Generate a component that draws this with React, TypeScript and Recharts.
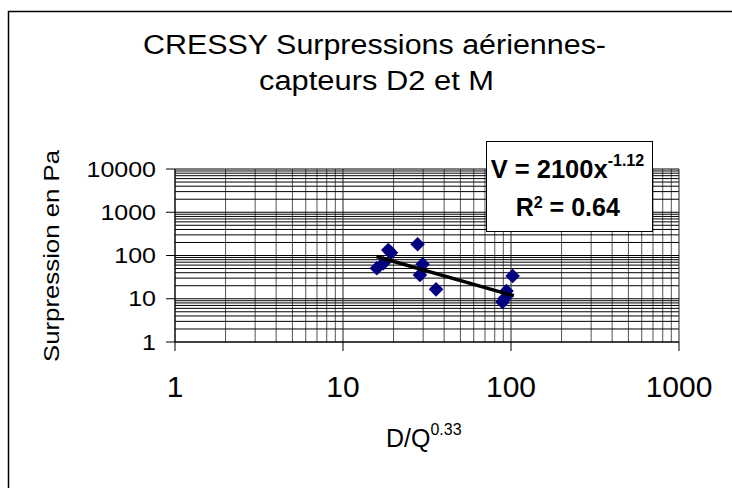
import React from 'react';
import { ScatterChart, Scatter, XAxis, YAxis, ReferenceLine } from 'recharts';

// D/Q^0.33 values of the measurement points
const distance = [15.9, 17.4, 18.6, 19.3, 27.8, 29.8, 28.7, 35.8, 102.3, 94.0, 89.0, 92.1];
// Surpression en Pa
const pressure = [50.6, 66, 134, 116, 181.5, 62.6, 35.4, 16.5, 33.6, 15.1, 8.4, 10.4];
// power trend line end points (V = 2100x^-1.12)
const trendX = [15.8, 104];
const trendY = [95, 11.7];

const xTicks = [1, 10, 100, 1000];
const yTicks = [1, 10, 100, 1000, 10000];
const xMinor = [2, 3, 4, 5, 6, 7, 8, 9, 20, 30, 40, 50, 60, 70, 80, 90, 200, 300, 400, 500, 600, 700, 800, 900];
const yMinor = [2, 3, 4, 5, 6, 7, 8, 9, 20, 30, 40, 50, 60, 70, 80, 90, 200, 300, 400, 500, 600, 700, 800, 900,
  2000, 3000, 4000, 5000, 6000, 7000, 8000, 9000];

const points = distance.map((d, i) => ({ x: d, y: pressure[i] }));
const trend = trendX.map((d, i) => ({ x: d, y: trendY[i] }));

const FONT = '"Liberation Sans", Arial, sans-serif';

const YTick = (props: any) => {
  const { x, y, payload } = props;
  const s = String(payload.value);
  return (
    <text x={x} y={y} dy={7.5} textAnchor="end" fontFamily={FONT} fontSize={21.5} fill="#000"
      textLength={s.length * 13.9} lengthAdjust="spacingAndGlyphs">{s}</text>
  );
};

const XTick = (props: any) => {
  const { x, y, payload } = props;
  const s = String(payload.value);
  return (
    <text x={x} y={y} dy={44} textAnchor="middle" fontFamily={FONT} fontSize={30} fill="#000">{s}</text>
  );
};

const Diamond = (props: any) => {
  const { cx, cy } = props;
  if (cx == null || cy == null) return <g />;
  const r = 7.3;
  return <path d={`M${cx},${cy - r}L${cx + r},${cy}L${cx},${cy + r}L${cx - r},${cy}Z`} fill="#000080" />;
};

const NoShape = () => <g />;

export default function App() {
  return (
    <div style={{ position: 'absolute', left: 0, top: 0, width: 732, height: 488, background: '#fff' }}>
      <ScatterChart width={732} height={488} margin={{ top: 169, right: 53, bottom: 86, left: 0 }}>
        {xMinor.map((v) => (
          <ReferenceLine key={'xm' + v} x={v} stroke="#555" strokeWidth={1} />
        ))}
        {yMinor.map((v) => (
          <ReferenceLine key={'ym' + v} y={v} stroke="#000" strokeWidth={1} />
        ))}
        {xTicks.map((v) => (
          <ReferenceLine key={'xM' + v} x={v} stroke="#222" strokeWidth={1} />
        ))}
        {yTicks.map((v) => (
          <ReferenceLine key={'yM' + v} y={v} stroke="#000" strokeWidth={1} />
        ))}
        <XAxis dataKey="x" type="number" scale="log" domain={[1, 1000]} ticks={xTicks} interval={0}
          allowDataOverflow height={60} tickSize={9} tickMargin={2}
          axisLine={{ stroke: '#000' }} tickLine={{ stroke: '#000' }} tick={<XTick />} />
        <YAxis dataKey="y" type="number" scale="log" domain={[1, 10000]} ticks={yTicks} interval={0}
          allowDataOverflow width={175} tickSize={9} tickMargin={10}
          axisLine={{ stroke: '#000' }} tickLine={{ stroke: '#000' }} tick={<YTick />} />
        <Scatter data={points} shape={<Diamond />} isAnimationActive={false} />
        <Scatter data={trend} line={{ stroke: '#000', strokeWidth: 3.5 }} shape={<NoShape />}
          isAnimationActive={false} />
      </ScatterChart>
      <svg width={732} height={488} style={{ position: 'absolute', left: 0, top: 0, pointerEvents: 'none' }}>
        <rect x={8.5} y={11.5} width={760} height={520} fill="none" stroke="#000" strokeWidth={1.5} />
        <text x={143} y={54.3} fontFamily={FONT} fontSize={27} fill="#000" textLength={463}
          lengthAdjust="spacingAndGlyphs">CRESSY Surpressions aériennes-</text>
        <text x={259} y={90} fontFamily={FONT} fontSize={27} fill="#000" textLength={235}
          lengthAdjust="spacingAndGlyphs">capteurs D2 et M</text>
        <text transform="translate(59,256) rotate(-90)" textAnchor="middle" fontFamily={FONT}
          fontSize={22.5} fill="#000" textLength={212} lengthAdjust="spacingAndGlyphs">Surpression en Pa</text>
        <text x={386} y={446.7} fontFamily={FONT} fontSize={25} fill="#000">
          D/Q<tspan fontSize={16} dy={-11.7}>0.33</tspan>
        </text>
        <rect x={486.5} y={141.5} width={166} height={90} fill="#fff" stroke="#000" strokeWidth={1} />
        <text x={490.7} y={178.3} fontFamily={FONT} fontSize={25.5} fontWeight="bold" fill="#000">
          V = 2100x<tspan fontSize={16} dy={-12.6}>-1.12</tspan>
        </text>
        <text x={515.7} y={216} fontFamily={FONT} fontSize={25} fontWeight="bold" fill="#000">
          R<tspan fontSize={16} dy={-8.5}>2</tspan><tspan dy={8.5}> = 0.64</tspan>
        </text>
      </svg>
    </div>
  );
}
